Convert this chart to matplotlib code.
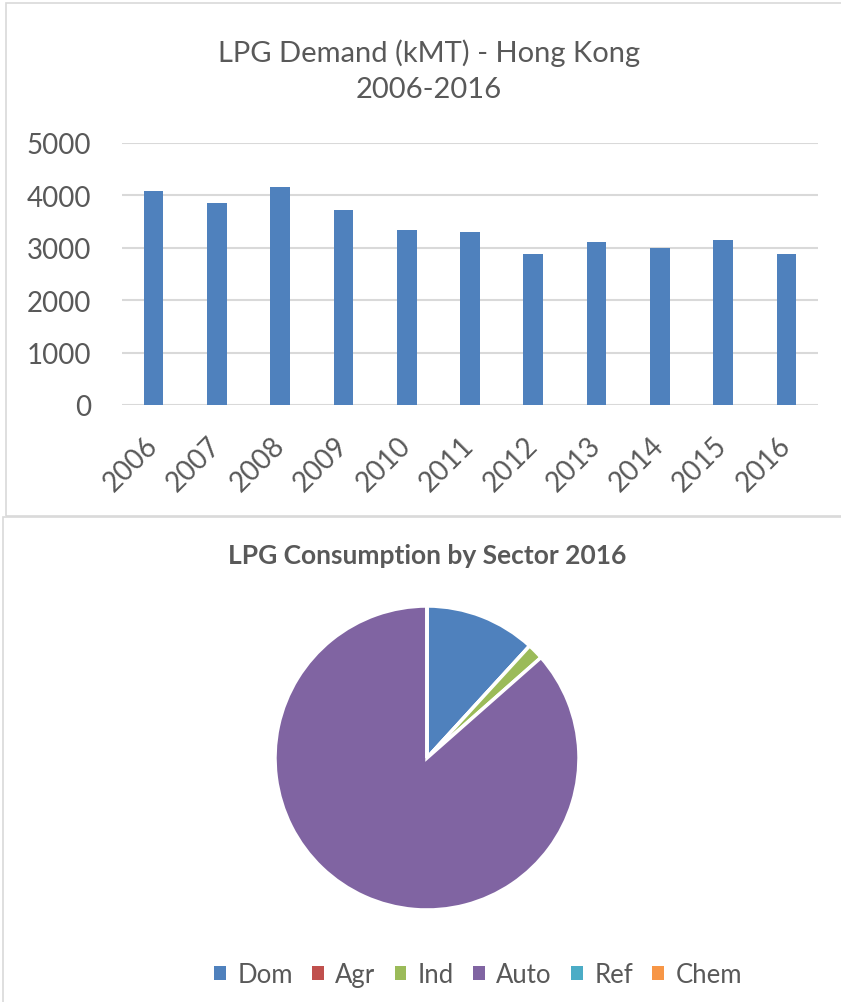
import numpy as np
import matplotlib
matplotlib.use("Agg")
import matplotlib.pyplot as plt
from matplotlib.patches import Rectangle, Patch

plt.rcParams['font.family'] = ['Lato', 'DejaVu Sans']

# LPG demand per year (kMT)
years = ["2006", "2007", "2008", "2009", "2010", "2011",
         "2012", "2013", "2014", "2015", "2016"]
demand = [4086, 3856, 4168, 3728, 3346, 3308, 2874, 3110, 2996, 3142, 2874]

# 2016 consumption share by sector (%)
sectors = ["Dom", "Agr", "Ind", "Auto", "Ref", "Chem"]
share = [11.8, 0.0, 1.7, 86.5, 0.0, 0.0]
sector_colors = ["#4F81BD", "#C0504D", "#9BBB59", "#8064A2", "#4BACC6", "#F79646"]

TEXT = "#595959"
GRID = "#D9D9D9"
W, H = 841, 1003

fig = plt.figure(figsize=(W / 100, H / 100), dpi=100)


def px_box(x0, y0, x1, y1):
    # pixel box (top-left origin) -> figure fraction rect
    return [x0 / W, 1 - y1 / H, (x1 - x0) / W, (y1 - y0) / H]


# chart frames
fig.patches.append(Rectangle((6 / W, 1 - 517 / H), 850 / W, 513 / H,
                             transform=fig.transFigure, fill=False,
                             edgecolor=GRID, lw=1.2))
fig.patches.append(Rectangle((3 / W, 1 - 1010 / H), 850 / W, 492 / H,
                             transform=fig.transFigure, fill=False,
                             edgecolor=GRID, lw=1.2))

# ---- bar chart ----
ax = fig.add_axes(px_box(122, 144, 818, 406))
x = np.arange(len(years))
ax.bar(x, demand, width=0.31, color="#4F81BD", zorder=3)
ax.set_xlim(-0.5, len(years) - 0.5)
ax.set_ylim(0, 5000)
ax.set_yticks(range(0, 5001, 1000))
ax.yaxis.grid(True, color=GRID, lw=1.5, zorder=0)
ax.set_xticks(x)
ax.set_xticklabels(years, rotation=45, ha="right", va="center",
                   rotation_mode="anchor")
ax.tick_params(axis="y", length=0, pad=22, labelsize=20, labelcolor=TEXT)
ax.tick_params(axis="x", length=0, pad=26, labelsize=20, labelcolor=TEXT)
for s in ax.spines.values():
    s.set_visible(False)
fig.text(429 / W, 1 - 71 / H, "LPG Demand (kMT) - Hong Kong\n2006-2016",
         ha="center", va="center", fontsize=21, color=TEXT, linespacing=1.45)

# ---- pie chart ----
cx, cy, r = 427, 759, 152
pax = fig.add_axes(px_box(cx - r, cy - r, cx + r, cy + r))
wedges, _ = pax.pie(share, colors=sector_colors, startangle=90,
                    counterclock=False, radius=1,
                    wedgeprops=dict(edgecolor="white", linewidth=2.5))
pax.set_xlim(-1, 1)
pax.set_ylim(-1, 1)
pax.set_aspect("equal")
pax.axis("off")
fig.text(427 / W, 1 - 556 / H, "LPG Consumption by Sector 2016",
         ha="center", va="center", fontsize=19, fontweight="bold", color=TEXT)

handles = [Patch(facecolor=c, edgecolor="none") for c in sector_colors]
fig.legend(handles, sectors, loc="center", bbox_to_anchor=(478 / W, 1 - 976 / H),
           ncol=6, frameon=False, fontsize=18.5, labelcolor=TEXT,
           handlelength=0.45, handleheight=0.45, handletextpad=0.45,
           columnspacing=0.75)

fig.savefig("out.png", dpi=100, facecolor="white")
